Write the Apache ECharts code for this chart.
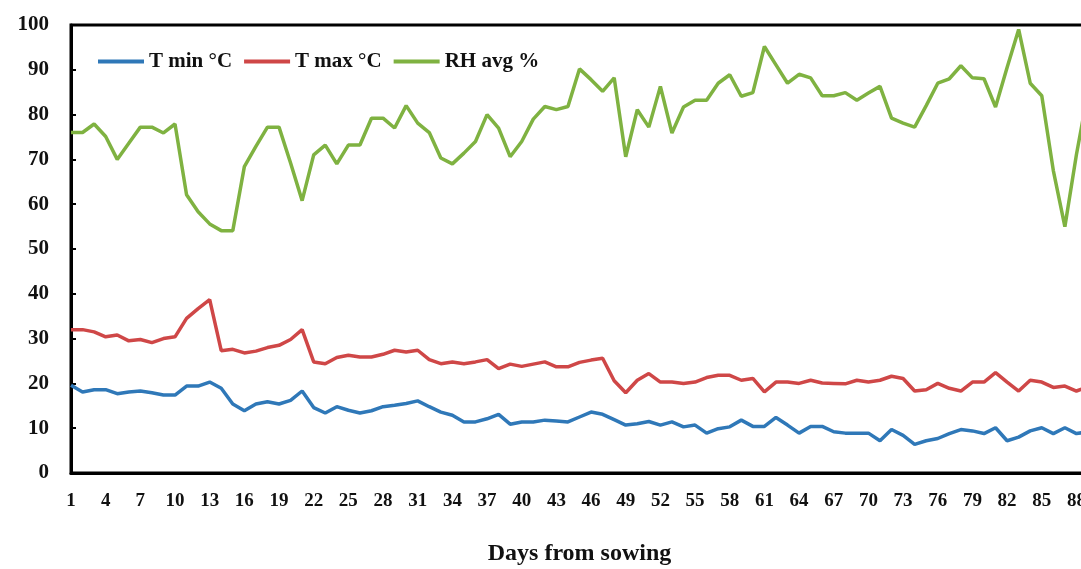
<!DOCTYPE html>
<html>
<head>
<meta charset="utf-8">
<script src="https://cdn.jsdelivr.net/npm/echarts@6/dist/echarts.min.js"></script>
<style>
  html, body { margin: 0; padding: 0; background: #fff; }
  #chart { width: 1081px; height: 569px; }
</style>
</head>
<body>
<div id="chart"></div>
<script>
// days 1..89 (the right end of the plot runs past the picture edge)
const days = [];
for (let d = 1; d <= 89; d++) days.push(String(d));

const tMin = [
  19.6, 18.1, 18.6, 18.6, 17.7, 18.1, 18.3, 17.9, 17.4, 17.4,
  19.4, 19.4, 20.3, 18.9, 15.4, 13.9, 15.4, 15.9, 15.4, 16.2,
  18.3, 14.6, 13.4, 14.8, 14.0, 13.4, 13.9, 14.8, 15.1, 15.5,
  16.1, 14.8, 13.6, 12.9, 11.4, 11.4, 12.1, 13.1, 10.9, 11.4,
  11.4, 11.8, 11.6, 11.4, 12.5, 13.6, 13.1, 11.9, 10.7, 11.0,
  11.5, 10.7, 11.4, 10.3, 10.7, 8.9, 9.9, 10.3, 11.8, 10.4,
  10.4, 12.4, 10.7, 8.9, 10.4, 10.4, 9.2, 8.9, 8.9, 8.9,
  7.2, 9.7, 8.4, 6.4, 7.2, 7.7, 8.8, 9.7, 9.4, 8.8,
  10.1, 7.2, 8.0, 9.4, 10.1, 8.8, 10.1, 8.8, 9.2
];

const tMax = [
  32.0, 32.0, 31.5, 30.4, 30.8, 29.5, 29.8, 29.1, 30.0, 30.4,
  34.5, 36.7, 38.7, 27.3, 27.6, 26.8, 27.2, 28.0, 28.5, 29.8,
  32.0, 24.8, 24.4, 25.8, 26.3, 25.9, 25.9, 26.5, 27.4, 27.0,
  27.4, 25.3, 24.4, 24.8, 24.4, 24.8, 25.3, 23.3, 24.3, 23.8,
  24.3, 24.8, 23.7, 23.7, 24.7, 25.2, 25.6, 20.6, 17.9, 20.7,
  22.2, 20.3, 20.3, 20.0, 20.3, 21.3, 21.8, 21.8, 20.7, 21.1,
  18.1, 20.3, 20.3, 20.0, 20.7, 20.1, 20.0, 19.9, 20.7, 20.3,
  20.7, 21.6, 21.1, 18.3, 18.6, 20.0, 18.9, 18.3, 20.3, 20.3,
  22.4, 20.3, 18.3, 20.7, 20.3, 19.1, 19.4, 18.3, 19.2
];

const rhAvg = [
  76.0, 76.0, 77.9, 75.1, 70.0, 73.6, 77.2, 77.2, 75.9, 77.9,
  62.1, 58.3, 55.6, 54.1, 54.1, 68.4, 72.9, 77.2, 77.2, 69.2,
  60.8, 71.0, 73.2, 69.0, 73.2, 73.2, 79.2, 79.2, 77.0, 82.0,
  78.1, 76.0, 70.3, 69.0, 71.4, 74.0, 80.0, 77.0, 70.6, 74.0,
  79.0, 81.8, 81.1, 81.8, 90.2, 87.8, 85.2, 88.2, 70.6, 81.1,
  77.2, 86.3, 75.9, 81.7, 83.2, 83.2, 87.0, 88.9, 84.1, 84.9,
  95.2, 91.1, 87.0, 89.0, 88.2, 84.2, 84.2, 84.9, 83.2, 84.8,
  86.3, 79.2, 78.1, 77.2, 82.0, 87.0, 88.0, 90.9, 88.2, 88.0,
  81.7, 90.5, 99.0, 87.0, 84.2, 67.5, 55.0, 71.1, 85.0
];

const yTicks = { min: 0, max: 100, interval: 10 };

const serif = '"Liberation Serif", "Times New Roman", serif';

const chart = echarts.init(document.getElementById('chart'));

chart.setOption({
  animation: false,
  backgroundColor: '#ffffff',
  grid: {
    left: 71,
    top: 25,
    width: 1017,
    height: 448,
    outerBoundsMode: 'none',
    containLabel: false,
    show: true,
    borderColor: '#000',
    borderWidth: 3
  },
  legend: {
    left: 93,
    top: 46,
    itemWidth: 46,
    itemHeight: 4,
    itemGap: 12,
    icon: 'rect',
    textStyle: {
      fontFamily: serif,
      fontWeight: 'bold',
      fontSize: 21,
      color: '#111'
    },
    data: ['T min °C', 'T max °C', 'RH avg %']
  },
  xAxis: {
    type: 'category',
    data: days,
    boundaryGap: false,
    name: 'Days from sowing',
    nameLocation: 'middle',
    nameGap: 69,
    nameTextStyle: {
      fontFamily: serif,
      fontWeight: 'bold',
      fontSize: 24,
      color: '#111'
    },
    axisLine: { lineStyle: { color: '#000', width: 3 } },
    axisTick: { show: false },
    axisLabel: {
      interval: 2,
      margin: 19,
      fontFamily: serif,
      fontWeight: 'bold',
      fontSize: 19,
      color: '#111'
    },
    splitLine: { show: false }
  },
  yAxis: {
    type: 'value',
    min: yTicks.min,
    max: yTicks.max,
    interval: yTicks.interval,
    axisLine: { show: true, lineStyle: { color: '#000', width: 3 } },
    axisTick: { show: true, inside: true, length: 5, lineStyle: { color: '#000', width: 2 } },
    axisLabel: {
      margin: 22,
      fontFamily: serif,
      fontWeight: 'bold',
      fontSize: 21,
      color: '#111'
    },
    splitLine: { show: false }
  },
  series: [
    {
      name: 'T min °C',
      type: 'line',
      data: tMin,
      symbol: 'none',
      itemStyle: { color: '#2F78B8' },
      lineStyle: { color: '#2F78B8', width: 3.5 }
    },
    {
      name: 'T max °C',
      type: 'line',
      data: tMax,
      symbol: 'none',
      itemStyle: { color: '#CF4747' },
      lineStyle: { color: '#CF4747', width: 3.5 }
    },
    {
      name: 'RH avg %',
      type: 'line',
      data: rhAvg,
      symbol: 'none',
      itemStyle: { color: '#7FB241' },
      lineStyle: { color: '#7FB241', width: 3.5 }
    }
  ]
});
</script>
</body>
</html>
